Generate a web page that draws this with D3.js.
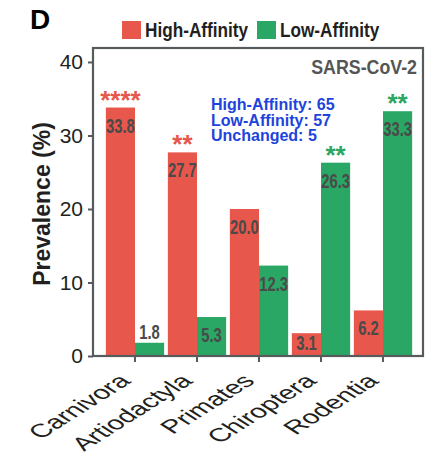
<!DOCTYPE html>
<html>
<head>
<meta charset="utf-8">
<script src="https://cdn.jsdelivr.net/npm/d3@7"></script>
<style>
  body { margin: 0; background: #fff; }
  svg { display: block; }
  text { font-family: "Liberation Sans", Arial, Helvetica, sans-serif; }
</style>
</head>
<body>
<div id="chart"></div>
<script>
// values (SARS-CoV-2 panel D)
const categories = ['Carnivora', 'Artiodactyla', 'Primates', 'Chiroptera', 'Rodentia']
const seriesNames = ['High-Affinity', 'Low-Affinity']
const highAffinity = [33.8, 27.7, 20.0, 3.1, 6.2]
const lowAffinity = [1.8, 5.3, 12.3, 26.3, 33.3]
const highStars = ['****', '**', '', '', '']
const lowStars = ['', '', '', '**', '**']
const yTicks = [0, 10, 20, 30, 40]
const countLines = ['High-Affinity: 65', 'Low-Affinity: 57', 'Unchanged: 5']

const W = 431, H = 454
const red = '#e8574b', green = '#2aa764', axisCol = '#575b5c', ink = '#231f20'

const svg = d3.select('#chart').append('svg')
  .attr('width', W).attr('height', H)

const plot = {left: 93, right: 423, top: 48, bottom: 356}

const y = d3.scaleLinear().domain([0, 41.9]).range([plot.bottom, plot.top])
const x0 = d3.scaleBand().domain(categories).range([104, 414])
  .paddingInner(0.06).paddingOuter(0.03)
const x1 = d3.scaleBand().domain(seriesNames).range([0, x0.bandwidth()])
const color = d3.scaleOrdinal().domain(seriesNames).range([red, green])

const rows = categories.map((c, i) => ({
  cat: c,
  bars: [
    {name: seriesNames[0], value: highAffinity[i], stars: highStars[i]},
    {name: seriesNames[1], value: lowAffinity[i], stars: lowStars[i]}
  ]
}))

// bars
const g = svg.selectAll('.grp').data(rows).enter().append('g')
  .attr('class', 'grp')
  .attr('transform', d => `translate(${x0(d.cat)},0)`)

g.selectAll('rect').data(d => d.bars).enter().append('rect')
  .attr('x', d => x1(d.name))
  .attr('y', d => y(d.value))
  .attr('width', x1.bandwidth())
  .attr('height', d => plot.bottom - y(d.value))
  .attr('fill', d => color(d.name))

// value labels (condensed look by squeezing horizontally)
const labelY = d => d.value < 2.5 ? y(d.value) - 4 : Math.min(y(d.value) + 25, plot.bottom - 6)
g.selectAll('.val').data(d => d.bars).enter().append('text')
  .attr('class', 'val')
  .attr('transform', d => `translate(${x1(d.name) + x1.bandwidth() / 2},${labelY(d)}) scale(0.74,1)`)
  .attr('text-anchor', 'middle')
  .style('font-weight', 'bold').style('font-size', '20px')
  .attr('fill', '#4a4a4a')
  .text(d => d.value.toFixed(1))

// significance stars
g.selectAll('.star').data(d => d.bars.filter(b => b.stars)).enter().append('text')
  .attr('class', 'star')
  .attr('x', d => x1(d.name) + x1.bandwidth() / 2)
  .attr('y', d => y(d.value) + 1)
  .attr('text-anchor', 'middle')
  .style('font-weight', 'bold').style('font-size', '26px')
  .attr('fill', d => color(d.name))
  .text(d => d.stars)

// frame
svg.append('rect')
  .attr('x', plot.left).attr('y', plot.top)
  .attr('width', plot.right - plot.left).attr('height', plot.bottom - plot.top)
  .attr('fill', 'none').attr('stroke', axisCol).attr('stroke-width', 2.2)

// y axis
const yAxis = svg.append('g')
  .attr('transform', `translate(${plot.left},0)`)
  .call(d3.axisLeft(y).tickValues(yTicks).tickSize(5).tickPadding(5))
yAxis.select('.domain').remove()
yAxis.selectAll('line').attr('stroke', axisCol).attr('stroke-width', 2)
yAxis.selectAll('text')
  .style('font-size', '21px')
  .attr('fill', ink)

// x axis: labels turned 45deg then flattened, as in the original figure
const xAxis = svg.append('g')
  .attr('transform', `translate(0,${plot.bottom})`)
  .call(d3.axisBottom(x0).tickSize(6))
xAxis.select('.domain').remove()
xAxis.selectAll('line').attr('stroke', axisCol).attr('stroke-width', 2)
xAxis.selectAll('text')
  .style('font-size', '21px')
  .attr('fill', ink)
  .attr('text-anchor', 'end')
  .attr('x', 0).attr('y', 0).attr('dy', 0)
  .attr('transform', 'translate(-3,26) scale(1.42,0.9) rotate(-45)')

// y title
svg.append('text')
  .attr('transform', `translate(50,${(plot.top + plot.bottom) / 2 + 2}) rotate(-90)`)
  .attr('text-anchor', 'middle')
  .style('font-weight', 'bold').style('font-size', '23px')
  .attr('fill', ink)
  .text('Prevalence (%)')

// panel letter
svg.append('text').attr('x', 30).attr('y', 29)
  .style('font-weight', 'bold').style('font-size', '28px')
  .attr('fill', '#000').text('D')

// legend
const legX = [122, 257]
const leg = svg.selectAll('.leg').data(seriesNames).enter().append('g')
  .attr('class', 'leg')
  .attr('transform', (d, i) => `translate(${legX[i]},21)`)
leg.append('rect').attr('width', 19).attr('height', 18).attr('fill', d => color(d))
leg.append('text')
  .attr('transform', 'translate(23,16) scale(0.86,1)')
  .style('font-weight', 'bold').style('font-size', '20px')
  .attr('fill', ink).text(d => d)

// panel title
svg.append('text')
  .attr('transform', 'translate(417,74) scale(0.89,1)')
  .attr('text-anchor', 'end')
  .style('font-weight', 'bold').style('font-size', '20px')
  .attr('fill', '#555').text('SARS-CoV-2')

// counts
svg.selectAll('.cnt').data(countLines).enter().append('text')
  .attr('class', 'cnt')
  .attr('x', 211).attr('y', (d, i) => 110 + i * 15.5)
  .style('font-weight', 'bold').style('font-size', '16px')
  .attr('fill', '#1d44db').text(d => d)
</script>
</body>
</html>
